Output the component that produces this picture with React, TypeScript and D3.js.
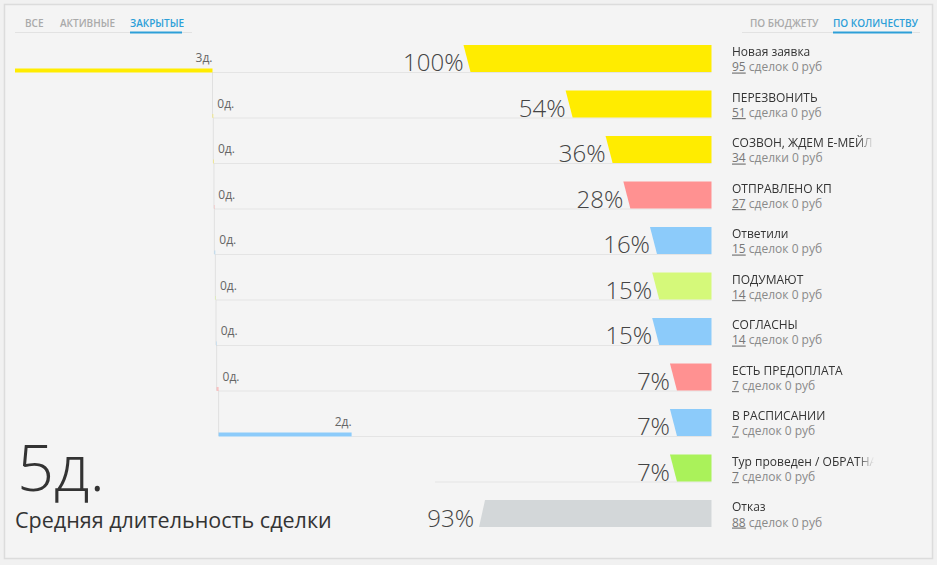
import React from "react";
import * as d3 from "d3";

const W = 937;
const H = 565;

const stageNames = [
  "Новая заявка",
  "ПЕРЕЗВОНИТЬ",
  "СОЗВОН, ЖДЕМ Е-МЕЙЛ",
  "ОТПРАВЛЕНО КП",
  "Ответили",
  "ПОДУМАЮТ",
  "СОГЛАСНЫ",
  "ЕСТЬ ПРЕДОПЛАТА",
  "В РАСПИСАНИИ",
  "Тур проведен / ОБРАТНАЯ СВЯЗЬ",
  "Отказ"
];
const dealCounts = [95, 51, 34, 27, 15, 14, 14, 7, 7, 7, 88];
const dealWords = ["сделок", "сделка", "сделки", "сделок", "сделок", "сделок", "сделок", "сделок", "сделок", "сделок", "сделок"];
const budgets = [0, 0, 0, 0, 0, 0, 0, 0, 0, 0, 0];
const stageColors = [
  "#ffec00", "#ffec00", "#ffec00", "#ff9191", "#8ccbfa", "#d5f97a",
  "#8ccbfa", "#ff9191", "#8ccbfa", "#aaf25a", "#d3d7d9"
];
// days spent in each stage (first 9 stages)
const stageDays = [3, 0.012, 0.01, 0.006, 0.015, 0.01, 0.01, 0.03, 2.02];
const leftTabs = ["ВСЕ", "АКТИВНЫЕ", "ЗАКРЫТЫЕ"];
const rightTabs = ["ПО БЮДЖЕТУ", "ПО КОЛИЧЕСТВУ"];
const avgCaption = "Средняя длительность сделки";

const FONT = "'Open Sans', 'Noto Sans', sans-serif";
const BLUE = "#2d9fd8";
const RIGHT = 711.5;
const LABEL_X = 732;

export default function App() {
  const n = stageNames.length;
  const total = dealCounts[0];
  const pcts = dealCounts.map(c => Math.round((c / total) * 100));

  const y = d3
    .scaleBand<number>()
    .domain(d3.range(n))
    .range([45, 527])
    .paddingInner(0.4066)
    .paddingOuter(0);
  const bh = y.bandwidth();

  const wScale = d3.scaleLinear().domain([0, 100]).range([26, 248]);
  const dayX = d3.scaleLinear().domain([0, 3]).range([15, 212.5]);

  const cum = d3.cumsum(stageDays);
  const starts = stageDays.map((_, i) => (i === 0 ? 0 : cum[i - 1]));
  const avgDays = Math.round(cum[cum.length - 1]);

  const leftTabX = [25, 60, 130];
  const rightTabX = [750, 833];

  return (
    <svg
      width={W}
      height={H}
      style={{ position: "absolute", left: 0, top: 0, background: "#f1f1f1" }}
      fontFamily={FONT}
    >
      <defs>
        <linearGradient id="fade" gradientUnits="userSpaceOnUse" x1={858} x2={874} y1={0} y2={0}>
          <stop offset="0" stopColor="#fff" stopOpacity={1} />
          <stop offset="1" stopColor="#fff" stopOpacity={0} />
        </linearGradient>
        <mask id="nameMask" maskUnits="userSpaceOnUse" x={0} y={0} width={W} height={H}>
          <rect x={0} y={0} width={874} height={H} fill="url(#fade)" />
        </mask>
      </defs>
      <rect x={4.5} y={4.5} width={928} height={554} fill="#f4f4f4" stroke="#dcdcdc" strokeWidth={1.5} />

      {/* tabs */}
      <line x1={15} x2={192} y1={32.5} y2={32.5} stroke="#e2e2e2" />
      {leftTabs.map((t, i) => (
        <text key={t} x={leftTabX[i]} y={26.5} fontSize={10} fontWeight={600}
          fill={i === 2 ? BLUE : "#aaaaaa"}>{t}</text>
      ))}
      <rect x={130} y={31.5} width={52} height={2} fill={BLUE} />
      <line x1={742} x2={920} y1={32.5} y2={32.5} stroke="#e2e2e2" />
      {rightTabs.map((t, i) => (
        <text key={t} x={rightTabX[i]} y={26.5} fontSize={10} fontWeight={600}
          fill={i === 1 ? BLUE : "#aaaaaa"}>{t}</text>
      ))}
      <rect x={833} y={31.5} width={79} height={2} fill={BLUE} />

      {/* separators */}
      {d3.range(n - 1).map(i => {
        const bottom = (y(i) as number) + bh;
        const x0 = i < stageDays.length ? dayX(cum[i]) : 435;
        return (
          <line key={"sep" + i} x1={x0} x2={RIGHT} y1={bottom + 0.5} y2={bottom + 0.5}
            stroke="#e4e4e4" strokeWidth={1} />
        );
      })}

      {/* duration steps */}
      {stageDays.map((d, i) => {
        const bottom = (y(i) as number) + bh;
        const x0 = dayX(starts[i]);
        const x1 = dayX(cum[i]);
        const label = Math.round(d) + "д.";
        const wide = x1 - x0 > 30;
        const next = i < stageDays.length - 1 ? (y(i + 1) as number) + bh : null;
        return (
          <g key={"d" + i}>
            {next !== null && (
              <line x1={x1} x2={x1} y1={bottom} y2={next} stroke="#e0e0e0" strokeWidth={1} />
            )}
            <rect x={x0} y={bottom - 3.5} width={Math.max(x1 - x0, 0.6)} height={4} fill={stageColors[i]}
              opacity={wide ? 1 : 0.5} />
            <text x={wide ? x1 : x1 + 4} y={bottom - 9.5} fontSize={12}
              textAnchor={wide ? "end" : "start"} fill="#666">{label}</text>
          </g>
        );
      })}

      {/* funnel bars */}
      {stageNames.map((name, i) => {
        const top = y(i) as number;
        const bottom = top + bh;
        const w = wScale(pcts[i]);
        const lost = i === n - 1;
        const tl = lost ? RIGHT - w + 6 : RIGHT - w;
        const bl = lost ? RIGHT - w : RIGHT - w + 7;
        const path = `M${tl},${top}L${RIGHT},${top}L${RIGHT},${bottom}L${bl},${bottom}Z`;
        return (
          <g key={"b" + i}>
            <path d={path} fill={stageColors[i]} />
            <text x={lost ? bl - 5 : tl} y={bottom - 0.5} fontSize={24} fontWeight={300}
              textAnchor="end" fill="#444">{pcts[i] + "%"}</text>
            <text x={LABEL_X} y={top + 11} fontSize={12} fill="#333" mask="url(#nameMask)">{name}</text>
            <text x={LABEL_X} y={bottom - 0.5} fontSize={12} fill="#8a8a8a">
              <tspan textDecoration="underline" fill="#777">{dealCounts[i]}</tspan>
              {" " + dealWords[i] + " " + budgets[i] + " руб"}
            </text>
          </g>
        );
      })}

      {/* average */}
      <text x={17} y={491} fontSize={65} fontWeight={300} fill="#333">{avgDays + "д."}</text>
      <text x={15} y={528} fontSize={21.5} fill="#333">{avgCaption}</text>
    </svg>
  );
}
